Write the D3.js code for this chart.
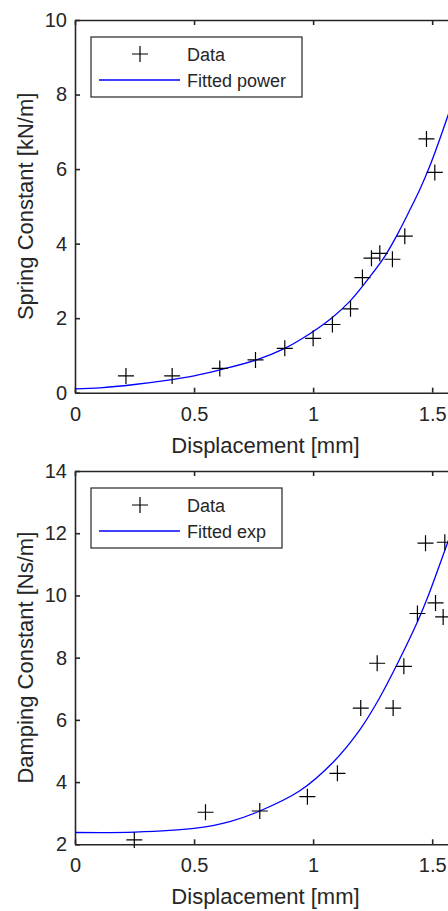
<!DOCTYPE html>
<html><head>
<meta charset="utf-8">
<title>Spring and damping constants</title>
<script src="https://d3js.org/d3.v7.min.js"></script>
<style>
  body { margin: 0; background: #fff; }
  svg { display: block; overflow: hidden; }
  text { font-family: "Liberation Sans", Arial, sans-serif; fill: #262626; }
  .axis path, .axis line { stroke: #262626; stroke-width: 1.6px; }
  .axis text { font-size: 20px; }
  text.label { font-size: 22px; text-anchor: middle; }
  .legend text { font-size: 18px; }
</style>
</head>
<body>
<svg id="chart" width="448" height="911"></svg>

<script>
// ---- data ----
const xTicks = [0, 0.5, 1, 1.5];

// top panel: spring constant
const springX = [0.214, 0.408, 0.608, 0.758, 0.881, 1.0, 1.081, 1.157, 1.207, 1.245, 1.28, 1.333, 1.385, 1.476, 1.511];
const springY = [0.45, 0.45, 0.65, 0.88, 1.19, 1.46, 1.83, 2.25, 3.09, 3.61, 3.74, 3.58, 4.20, 6.81, 5.91];
// fitted power curve
const springFitX = [0, 0.105, 0.25, 0.385, 0.5, 0.608, 0.762, 0.881, 0.951, 1.077, 1.154, 1.238, 1.301, 1.35, 1.406, 1.45, 1.49, 1.567, 1.6];
const springFitY = [0.10, 0.13, 0.22, 0.33, 0.45, 0.61, 0.88, 1.19, 1.44, 2.0, 2.45, 3.11, 3.66, 4.2, 4.9, 5.48, 6.08, 7.45, 8.1];
const springTicks = [0, 2, 4, 6, 8, 10];

// bottom panel: damping constant
const dampX = [0.249, 0.548, 0.776, 0.976, 1.102, 1.200, 1.269, 1.336, 1.381, 1.438, 1.472, 1.514, 1.546, 1.553];
const dampY = [2.14, 3.03, 3.07, 3.53, 4.28, 6.38, 7.82, 6.38, 7.72, 9.42, 11.68, 9.76, 9.31, 11.71];
// fitted exp curve
const dampFitX = [0, 0.25, 0.5, 0.65, 0.776, 0.944, 1.084, 1.196, 1.28, 1.357, 1.441, 1.483, 1.564, 1.6];
const dampFitY = [2.38, 2.39, 2.51, 2.73, 3.07, 3.72, 4.64, 5.68, 6.72, 7.85, 9.2, 9.98, 11.68, 12.45];
const dampTicks = [2, 4, 6, 8, 10, 12, 14];

const svg = d3.select("#chart");

// one MATLAB-style panel
function drawPanel(p) {
  const g = svg.append("g");

  const x = d3.scaleLinear().domain([0, 1.6]).range([p.left, p.right]);
  const y = d3.scaleLinear().domain(p.yDomain).range([p.bottom, p.top]);

  // box + inward ticks on all four sides
  g.append("g").attr("class", "axis")
    .attr("transform", `translate(0,${p.bottom})`)
    .call(d3.axisBottom(x).tickValues(xTicks).tickFormat(d3.format("")).tickSizeInner(-5).tickSizeOuter(0).tickPadding(14));
  g.append("g").attr("class", "axis")
    .attr("transform", `translate(0,${p.top})`)
    .call(d3.axisTop(x).tickValues(xTicks).tickFormat("").tickSizeInner(-5).tickSizeOuter(0));
  g.append("g").attr("class", "axis")
    .attr("transform", `translate(${p.left},0)`)
    .call(d3.axisLeft(y).tickValues(p.yTicks).tickSizeInner(-5).tickSizeOuter(0).tickPadding(8));
  g.append("g").attr("class", "axis")
    .attr("transform", `translate(${p.right},0)`)
    .call(d3.axisRight(y).tickValues(p.yTicks).tickFormat("").tickSizeInner(-5).tickSizeOuter(0));
  g.selectAll(".axis text").attr("fill", "#262626").attr("font-family", null);

  // fitted curve
  const pts = d3.zip(p.fitX, p.fitY);
  g.append("path")
    .datum(pts)
    .attr("fill", "none")
    .attr("stroke", "#0000ff")
    .attr("stroke-width", 1.3)
    .attr("d", d3.line().x(d => x(d[0])).y(d => y(d[1])).curve(d3.curveCatmullRom.alpha(0.5)));

  // data markers
  const plus = "M-8,0H8M0,-8V8";
  g.selectAll("path.pt").data(d3.zip(p.dataX, p.dataY))
    .join("path")
    .attr("class", "pt")
    .attr("d", plus)
    .attr("stroke", "#000")
    .attr("stroke-width", 1.2)
    .attr("transform", d => `translate(${x(d[0])},${y(d[1])})`);

  // axis labels
  g.append("text").attr("class", "label")
    .attr("x", (p.left + p.right) / 2)
    .attr("y", p.bottom + 60)
    .text("Displacement [mm]");
  g.append("text").attr("class", "label")
    .attr("transform", `translate(33,${(p.top + p.bottom) / 2}) rotate(-90)`)
    .text(p.yLabel);

  // legend
  const lg = g.append("g").attr("class", "legend")
    .attr("transform", `translate(91,${p.top + 17})`);
  lg.append("rect")
    .attr("width", p.legendW).attr("height", 60)
    .attr("fill", "#fff").attr("stroke", "#262626").attr("stroke-width", 1.2);
  lg.append("path").attr("d", plus)
    .attr("transform", "translate(49,17)")
    .attr("stroke", "#000").attr("stroke-width", 1.2);
  lg.append("line")
    .attr("x1", 8).attr("x2", 89).attr("y1", 43).attr("y2", 43)
    .attr("stroke", "#0000ff").attr("stroke-width", 1.3);
  lg.append("text").attr("x", 96).attr("y", 24).text("Data");
  lg.append("text").attr("x", 96).attr("y", 50).text(p.fitName);
}

drawPanel({
  top: 20, bottom: 392.7, left: 75, right: 456,
  yDomain: [0, 10], yTicks: springTicks,
  dataX: springX, dataY: springY, fitX: springFitX, fitY: springFitY,
  yLabel: "Spring Constant [kN/m]", fitName: "Fitted power", legendW: 211
});

drawPanel({
  top: 471, bottom: 844.3, left: 75, right: 456,
  yDomain: [2, 14], yTicks: dampTicks,
  dataX: dampX, dataY: dampY, fitX: dampFitX, fitY: dampFitY,
  yLabel: "Damping Constant [Ns/m]", fitName: "Fitted exp", legendW: 191
});
</script>
</body>
</html>
